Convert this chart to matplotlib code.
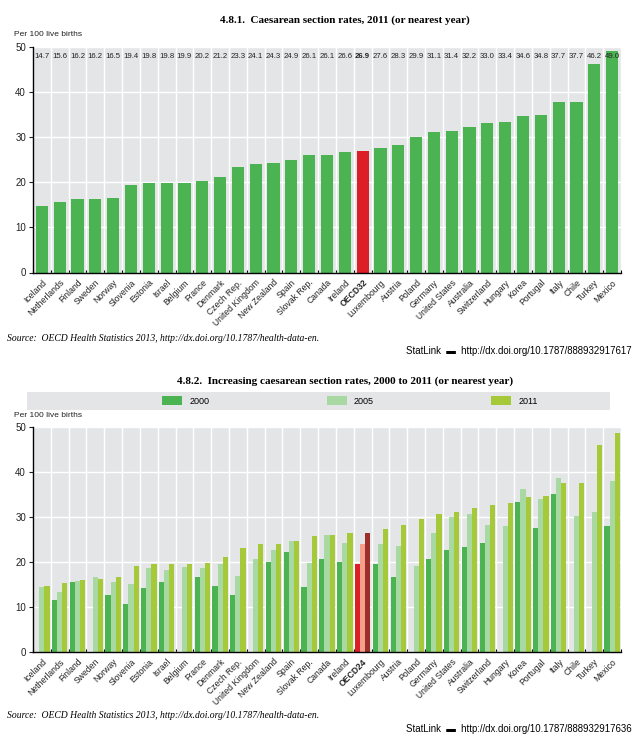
import matplotlib
matplotlib.use("Agg")
import matplotlib.pyplot as plt
import numpy as np
from matplotlib.patches import Rectangle, Patch

countries = ["Iceland", "Netherlands", "Finland", "Sweden", "Norway", "Slovenia", "Estonia",
             "Israel", "Belgium", "France", "Denmark", "Czech Rep.", "United Kingdom",
             "New Zealand", "Spain", "Slovak Rep.", "Canada", "Ireland", "OECD", "Luxembourg",
             "Austria", "Poland", "Germany", "United States", "Australia", "Switzerland",
             "Hungary", "Korea", "Portugal", "Italy", "Chile", "Turkey", "Mexico"]

rate_2011_top = [14.7, 15.6, 16.2, 16.2, 16.5, 19.4, 19.8, 19.8, 19.9, 20.2, 21.2, 23.3, 24.1,
                 24.3, 24.9, 26.1, 26.1, 26.6, 26.9, 27.6, 28.3, 29.9, 31.1, 31.4, 32.2, 33.0,
                 33.4, 34.6, 34.8, 37.7, 37.7, 46.2, 49.0]

nan = np.nan
rate_2000 = [nan, 11.6, 15.4, nan, 12.7, 10.6, 14.2, 15.4, nan, 16.7, 14.7, 12.6, nan,
             20.0, 22.1, 14.3, 20.6, 20.0, 19.6, 19.6, 16.5, nan, 20.5, 22.7, 23.3, 24.2,
             nan, 33.3, 27.5, 35.0, nan, nan, 27.9]
rate_2005 = [14.3, 13.2, 15.8, 16.5, 15.6, 15.0, 18.5, 18.1, 18.9, 18.7, 19.6, 16.9, 20.6,
             22.7, 24.7, 19.7, 25.9, 24.1, 23.9, 23.9, 23.6, 19.0, 26.4, 29.9, 30.5, 28.1,
             27.9, 36.1, 33.9, 38.7, 30.2, 31.1, 38.0]
rate_2011 = [14.7, 15.3, 16.0, 16.2, 16.5, 19.1, 19.5, 19.5, 19.6, 19.8, 21.0, 23.0, 23.9,
             23.9, 24.7, 25.8, 25.9, 26.3, 26.3, 27.3, 28.1, 29.6, 30.7, 31.1, 32.0, 32.7,
             33.1, 34.4, 34.5, 37.4, 37.4, 45.9, 48.7]

top_label = "OECD32"
bottom_label = "OECD24"
years = ["2000", "2005", "2011"]

BG = "#e4e5e7"
GREEN = "#4cb352"
C2000 = "#4cb352"
C2005 = "#a9d9a2"
C2011 = "#a6c93a"
O2000 = "#dc1f26"
O2005 = "#f4a08c"
O2011 = "#9c2f2a"

narrow = ["Liberation Sans Narrow", "Liberation Sans", "DejaVu Sans"]
serif = ["Liberation Serif", "DejaVu Serif"]

fig = plt.figure(figsize=(6.38, 7.43), dpi=100)
W, H = 638, 743

def fx(px):
    return px / W

def fy(py):
    return 1 - py / H

n = len(countries)
x = np.arange(n)


def style_axes(ax, lab):
    ax.set_facecolor(BG)
    ax.set_xlim(-0.5, n - 0.5)
    ax.set_ylim(0, 50)
    ax.set_yticks([0, 10, 20, 30, 40, 50])
    ax.yaxis.grid(True, color="white", linewidth=1.0)
    ax.set_xticks(np.arange(-0.5, n, 1.0), minor=True)
    ax.xaxis.grid(True, which="minor", color="white", linewidth=1.0)
    ax.set_axisbelow(True)
    ax.set_xticks(x)
    labels = [lab if c == "OECD" else c for c in countries]
    ax.set_xticklabels(labels, rotation=45, ha="right", rotation_mode="anchor",
                       fontsize=6.2, family=narrow, color="#222222")
    for t in ax.get_xticklabels():
        if t.get_text().startswith("OECD"):
            t.set_fontweight("bold")
    ax.tick_params(axis="x", which="major", length=0, pad=4)
    ax.tick_params(axis="x", which="minor", length=2.5, direction="in", width=0.8)
    ax.tick_params(axis="y", length=3, width=0.8, labelsize=7, pad=2, colors="#222222")
    for t in ax.get_yticklabels():
        t.set_family(narrow)
    for s in ["top", "right"]:
        ax.spines[s].set_visible(False)
    ax.spines["left"].set_linewidth(1.0)
    ax.spines["bottom"].set_linewidth(1.0)


# ---------- Top chart ----------
ax1 = fig.add_axes([fx(33), fy(272.5), fx(621 - 33), (272.5 - 46.7) / H])
colors_top = [O2000 if c == "OECD" else GREEN for c in countries]
ax1.bar(x, rate_2011_top, width=0.68, color=colors_top, zorder=2)
style_axes(ax1, top_label)
for i, v in enumerate(rate_2011_top):
    ax1.text(i, 47.8, f"{v:.1f}", ha="center", va="center", fontsize=5.6,
             family=narrow, color="#222222",
             fontweight="bold" if countries[i] == "OECD" else "normal", zorder=3)

fig.text(fx(345), fy(20), "4.8.1.  Caesarean section rates, 2011 (or nearest year)",
         ha="center", va="center", fontsize=8, fontweight="bold", family=serif)
fig.text(fx(14), fy(35), "Per 100 live births", ha="left", va="center", fontsize=6,
         family=narrow, color="#222222")
fig.text(fx(7), fy(338), "Source:  OECD Health Statistics 2013, http://dx.doi.org/10.1787/health-data-en.",
         ha="left", va="center", fontsize=6.9, style="italic", family=serif)
fig.text(fx(632), fy(351), "StatLink  \u25ac  http://dx.doi.org/10.1787/888932917617",
         ha="right", va="center", fontsize=6.9, family=narrow)

# ---------- Bottom chart ----------
ax2 = fig.add_axes([fx(33), fy(651.7), fx(621 - 33), (651.7 - 426.7) / H])
bw = 0.29
series = [rate_2000, rate_2005, rate_2011]
cols = [C2000, C2005, C2011]
ocols = [O2000, O2005, O2011]
for k, (vals, col, ocol) in enumerate(zip(series, cols, ocols)):
    cs = [ocol if c == "OECD" else col for c in countries]
    ax2.bar(x + (k - 1) * bw, np.nan_to_num(vals), width=bw, color=cs, zorder=2)
style_axes(ax2, bottom_label)

fig.text(fx(345), fy(381), "4.8.2.  Increasing caesarean section rates, 2000 to 2011 (or nearest year)",
         ha="center", va="center", fontsize=8, fontweight="bold", family=serif)
fig.patches.append(Rectangle((fx(27), fy(410)), fx(610 - 27), (410 - 392) / H,
                             transform=fig.transFigure, facecolor=BG, edgecolor="none"))
handles = [Patch(facecolor=c) for c in cols]
fig.legend(handles, years, loc="center", bbox_to_anchor=(fx(350), fy(401)), ncol=3,
           frameon=False, columnspacing=13, handlelength=2.2,
           handleheight=1.0, handletextpad=0.8, prop={"family": narrow, "size": 6.5})
fig.text(fx(14), fy(416), "Per 100 live births", ha="left", va="center", fontsize=6,
         family=narrow, color="#222222")
fig.text(fx(7), fy(716), "Source:  OECD Health Statistics 2013, http://dx.doi.org/10.1787/health-data-en.",
         ha="left", va="center", fontsize=6.9, style="italic", family=serif)
fig.text(fx(632), fy(729), "StatLink  \u25ac  http://dx.doi.org/10.1787/888932917636",
         ha="right", va="center", fontsize=6.9, family=narrow)

fig.savefig("out.png", dpi=100, facecolor="white")
